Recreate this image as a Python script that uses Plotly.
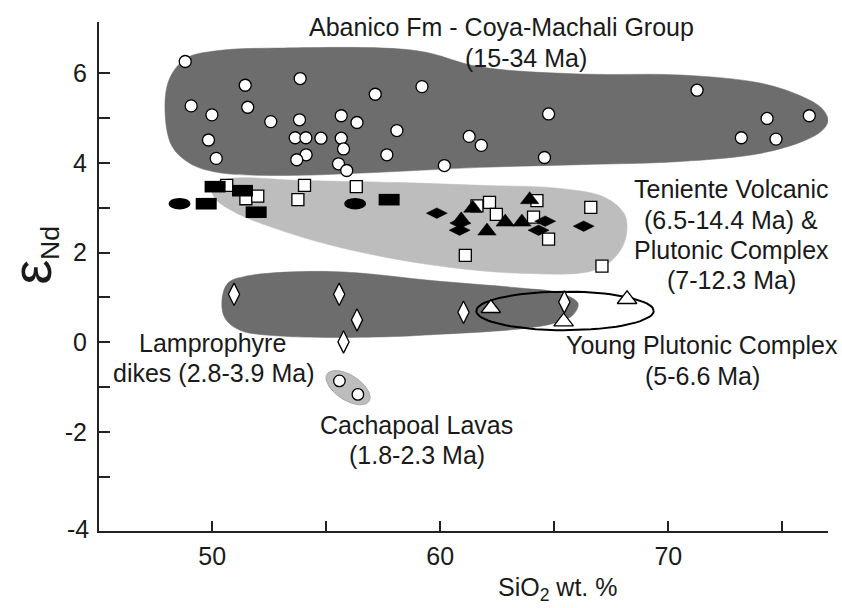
import numpy as np
import plotly.graph_objects as go

# ---------------- data ----------------
# Abanico Fm - Coya-Machali Group (open circles)
abanico_x = [48.82, 51.45, 53.86, 57.15, 59.2, 49.08, 49.99, 51.56, 52.57, 53.83, 55.66, 56.35,
             58.1, 49.84, 53.64, 54.11, 54.77, 55.66, 55.76, 54.12, 53.71, 50.18, 55.54, 55.9,
             57.66, 61.27, 61.8, 60.18, 71.26, 64.75, 74.33, 76.18, 73.2, 74.72, 64.57]
abanico_y = [6.26, 5.73, 5.88, 5.53, 5.70, 5.27, 5.07, 5.24, 4.92, 4.96, 5.05, 4.90,
             4.72, 4.51, 4.56, 4.56, 4.55, 4.55, 4.31, 4.18, 4.07, 4.10, 3.98, 3.83,
             4.18, 4.59, 4.39, 3.94, 5.62, 5.09, 4.99, 5.05, 4.56, 4.53, 4.12]

# Teniente open squares
ten_sq_x = [50.64, 51.48, 52.0, 54.05, 53.76, 56.32, 61.61, 62.16, 62.46, 64.24, 64.09, 64.75, 61.1, 66.6, 67.09]
ten_sq_y = [3.50, 3.20, 3.26, 3.50, 3.18, 3.47, 3.04, 3.12, 2.85, 3.16, 2.79, 2.30, 1.94, 3.01, 1.70]

# Teniente black rectangles
ten_rect_x = [50.13, 51.33, 49.74, 51.93, 57.76]
ten_rect_y = [3.47, 3.38, 3.09, 2.90, 3.18]

# Teniente black ellipses
ten_ell_x = [48.57, 56.27]
ten_ell_y = [3.09, 3.09]

# Teniente black diamonds
ten_dia_x = [59.85, 60.88, 60.85, 64.6, 64.31, 66.29]
ten_dia_y = [2.88, 2.66, 2.50, 2.70, 2.50, 2.59]

# Teniente black triangles
ten_tri_x = [61.43, 63.92, 60.92, 62.85, 63.58, 62.05]
ten_tri_y = [2.99, 3.18, 2.73, 2.68, 2.68, 2.48]

# Lamprophyre dikes (open tall diamonds)
lamp_x = [50.96, 55.57, 56.35, 55.76, 61.02, 65.44]
lamp_y = [1.07, 1.07, 0.50, 0.01, 0.67, 0.90]

# Young Plutonic Complex (open triangles)
ypc_x = [62.22, 65.41, 68.19]
ypc_y = [0.76, 0.46, 0.96]

# Cachapoal lavas (open circles)
cach_x = [55.58, 56.39]
cach_y = [-0.86, -1.16]

# Field outlines
abanico_field_x = [47.93, 48.15, 48.89, 50.21, 53.10, 58.98, 61.74, 66.13, 70.51, 74.02, 75.77, 76.74,
                   77.0, 76.74, 75.99, 74.02, 70.51, 66.13, 61.74, 57.36, 53.10, 50.21, 49.02, 48.23]
abanico_field_y = [5.23, 5.90, 6.34, 6.50, 6.56, 6.50, 6.14, 5.98, 5.96, 5.78, 5.50, 5.21,
                   4.94, 4.72, 4.50, 4.21, 4.03, 3.96, 3.90, 3.79, 3.72, 3.79, 3.99, 4.38]
teniente_field_x = [49.99, 50.78, 53.85, 58.23, 61.74, 65.25, 67.22, 68.10, 68.10, 67.53, 66.56,
                    63.50, 60.43, 57.36, 54.72, 52.53, 50.99, 50.12]
teniente_field_y = [3.50, 3.65, 3.61, 3.56, 3.50, 3.43, 3.23, 2.83, 2.27, 1.83, 1.58,
                    1.54, 1.67, 1.92, 2.23, 2.58, 2.90, 3.21]
lamp_field_x = [50.43, 50.69, 51.43, 55.16, 59.99, 63.50, 65.25, 66.04, 65.82, 65.03, 63.50,
                59.99, 57.36, 52.97, 51.22, 50.56]
lamp_field_y = [0.94, 1.32, 1.47, 1.58, 1.36, 1.21, 1.10, 0.87, 0.61, 0.43, 0.30,
                0.18, 0.12, 0.14, 0.27, 0.54]

# Young Plutonic ellipse (center, semi-axes in data units)
ypc_ell = dict(cx=65.47, cy=0.70, ax=3.89, ay=0.43)
# Cachapoal field ellipse (center in data units, semi-axes in px, angle deg)
cach_ell = dict(cx=55.96, cy=-1.01, a_px=25, b_px=12.5, ang=-33)

y_tickvals = [-2, 0, 2, 4, 6]
y_ticktext = ["-2", "0", "2", "4", "6"]
x_tickvals = [50, 60, 70]

# label lines: (text, x, y)
labels = [
    ("Abanico Fm - Coya-Machali Group", 62.7, 7.03),
    ("(15-34 Ma)", 63.74, 6.33),
    ("Teniente Volcanic", 72.75, 3.41),
    ("(6.5-14.4 Ma) &amp;", 72.75, 2.72),
    ("Plutonic Complex", 72.75, 2.06),
    ("(7-12.3 Ma)", 72.75, 1.39),
    ("Lamprophyre", 50.01, -0.02),
    ("dikes (2.8-3.9 Ma)", 50.05, -0.69),
    ("Young Plutonic Complex", 71.48, -0.06),
    ("(5-6.6 Ma)", 71.48, -0.75),
    ("Cachapoal Lavas", 58.96, -1.84),
    ("(1.8-2.3 Ma)", 58.96, -2.51),
]

XPX, YPX = 22.8, 44.9  # px per data unit (for pixel-defined ellipse)

FONT = "Liberation Sans, Arial, sans-serif"
DARK = "#6d6d6d"
LIGHT = "#bdbdbd"
FS = 25

fig = go.Figure()


def closed(xs, ys):
    return list(xs) + [xs[0]], list(ys) + [ys[0]]


for fx, fy, col in [(abanico_field_x, abanico_field_y, DARK),
                    (teniente_field_x, teniente_field_y, LIGHT),
                    (lamp_field_x, lamp_field_y, DARK)]:
    cx_, cy_ = closed(fx, fy)
    fig.add_trace(go.Scatter(x=cx_, y=cy_, mode="lines", fill="toself", fillcolor=col,
                             line=dict(color=col, width=0.5, shape="spline", smoothing=1.0),
                             hoverinfo="skip", showlegend=False))

# Cachapoal ellipse
t = np.linspace(0, 2 * np.pi, 80)
ang = np.deg2rad(cach_ell["ang"])
dxp = cach_ell["a_px"] * np.cos(t) * np.cos(ang) - cach_ell["b_px"] * np.sin(t) * np.sin(ang)
dyp = cach_ell["a_px"] * np.cos(t) * np.sin(ang) + cach_ell["b_px"] * np.sin(t) * np.cos(ang)
fig.add_trace(go.Scatter(x=cach_ell["cx"] + dxp / XPX, y=cach_ell["cy"] + dyp / YPX, mode="lines",
                         fill="toself", fillcolor=LIGHT, line=dict(color="#a8a8a8", width=1),
                         hoverinfo="skip", showlegend=False))

# Young Plutonic outline ellipse
fig.add_trace(go.Scatter(x=ypc_ell["cx"] + ypc_ell["ax"] * np.cos(t),
                         y=ypc_ell["cy"] + ypc_ell["ay"] * np.sin(t), mode="lines",
                         line=dict(color="black", width=2), hoverinfo="skip", showlegend=False))

mk_line = dict(color="black", width=1.3)
fig.add_trace(go.Scatter(x=abanico_x, y=abanico_y, mode="markers", showlegend=False,
                         marker=dict(symbol="circle", size=12, color="white", line=mk_line)))
fig.add_trace(go.Scatter(x=cach_x, y=cach_y, mode="markers", showlegend=False,
                         marker=dict(symbol="circle", size=11.5, color="white", line=mk_line)))
fig.add_trace(go.Scatter(x=ten_sq_x, y=ten_sq_y, mode="markers", showlegend=False,
                         marker=dict(symbol="square", size=12, color="white", line=mk_line)))
fig.add_trace(go.Scatter(x=ten_dia_x, y=ten_dia_y, mode="markers", showlegend=False,
                         marker=dict(symbol="diamond-wide", size=15, color="black", line=dict(color="black", width=0.5))))
fig.add_trace(go.Scatter(x=ten_tri_x, y=ten_tri_y, mode="markers", showlegend=False,
                         marker=dict(symbol="triangle-up", size=16, color="black", line=dict(color="black", width=0.5))))
fig.add_trace(go.Scatter(x=lamp_x, y=lamp_y, mode="markers", showlegend=False,
                         marker=dict(symbol="diamond-tall", size=16, color="white", line=mk_line)))
fig.add_trace(go.Scatter(x=ypc_x, y=ypc_y, mode="markers", showlegend=False,
                         marker=dict(symbol="triangle-up", size=17, color="white", line=mk_line)))

shapes = []
for x, y in zip(ten_rect_x, ten_rect_y):
    shapes.append(dict(type="rect", xref="x", yref="y", xsizemode="pixel", ysizemode="pixel",
                       xanchor=x, yanchor=y, x0=-10.5, x1=10.5, y0=-5.8, y1=5.8,
                       fillcolor="black", line=dict(width=0), layer="above"))
for x, y in zip(ten_ell_x, ten_ell_y):
    shapes.append(dict(type="circle", xref="x", yref="y", xsizemode="pixel", ysizemode="pixel",
                       xanchor=x, yanchor=y, x0=-11, x1=11, y0=-5.8, y1=5.8,
                       fillcolor="black", line=dict(width=0), layer="above"))

TXT = dict(family=FONT, size=FS, color="#1a1a1a")
annotations = [dict(xref="x", yref="y", x=x, y=y, text=s, showarrow=False, font=TXT,
                    xanchor="center", yanchor="middle") for s, x, y in labels]
annotations.append(dict(xref="paper", yref="y", x=0, y=-4.16, xanchor="right", yanchor="middle",
                        xshift=-8, text="-4", showarrow=False, font=TXT))
annotations.append(dict(xref="x", yref="paper", x=65.18, y=-0.114, xanchor="center", yanchor="middle",
                        text="SiO<sub>2</sub> wt. %", showarrow=False, font=TXT))

pad = "&nbsp;" * 4
fig.update_layout(
    width=842, height=608,
    margin=dict(l=99, r=14, t=22, b=77),
    paper_bgcolor="white", plot_bgcolor="white",
    shapes=shapes, annotations=annotations, showlegend=False,
    xaxis=dict(range=[45.04, 77.0], showgrid=False, zeroline=False, showline=True,
               linecolor="#222", linewidth=2, mirror=False,
               tickvals=x_tickvals, ticks="inside", ticklen=10, tickwidth=2, tickcolor="#222",
               tickfont=TXT, ticklabelstandoff=2,
               minor=dict(tickvals=[55, 65, 75], ticks="inside", ticklen=10, tickwidth=2, tickcolor="#222")),
    yaxis=dict(range=[-4.205, 7.14], showgrid=False, zeroline=False, showline=True,
               linecolor="#222", linewidth=2,
               tickvals=y_tickvals, ticktext=y_ticktext, ticks="inside", ticklen=11, tickwidth=2,
               tickcolor="#222", tickfont=TXT, ticklabelstandoff=5,
               title=dict(text=pad + "<span style='font-size:56px'>ε</span><sub>Nd</sub>",
                          font=dict(family=FONT, size=38, color="#1a1a1a"), standoff=12),
               minor=dict(tickvals=[-3, -1, 1, 3, 5, 7.13], ticks="inside", ticklen=11, tickwidth=2, tickcolor="#222")),
)

fig.write_html("out.html")
